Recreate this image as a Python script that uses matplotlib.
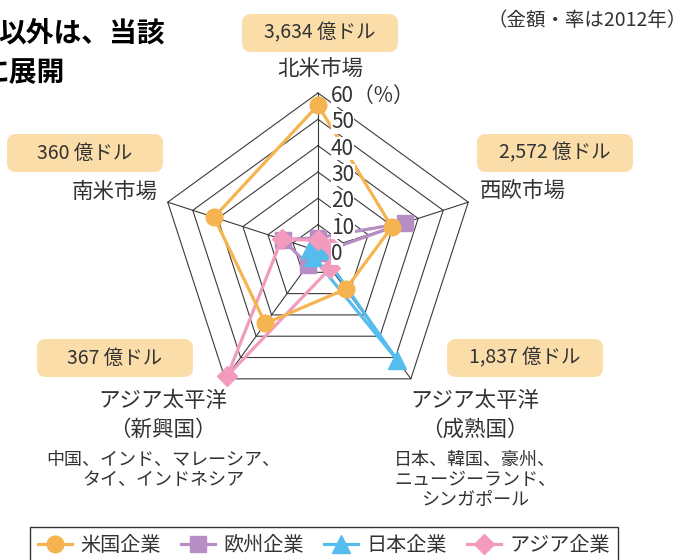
import numpy as np
import matplotlib
matplotlib.use('Agg')
from matplotlib import pyplot as plt
from matplotlib.patches import FancyBboxPatch
from matplotlib.lines import Line2D

plt.rcParams['font.family'] = ['Noto Sans CJK JP', 'DejaVu Sans']

# datos (%)
markets = ['北米市場', '西欧市場', 'アジア太平洋(成熟国)', 'アジア太平洋(新興国)', '南米市場']
amounts = ['3,634 億ドル', '2,572 億ドル', '1,837 億ドル', '367 億ドル', '360 億ドル']
us_vals = [55.4, 29.5, 17.9, 34, 41.5]
eu_vals = [5, 34.6, 1, 6.5, 14]
jp_vals = [3, 1, 51, 3, 3]
asia_vals = [4, 5, 8, 58.5, 14.5]
ticks = [0, 10, 20, 30, 40, 50, 60]
series_names = ['米国企業', '欧州企業', '日本企業', 'アジア企業']

txt = '#333333'
col_us = '#F5B44F'
col_eu = '#B68DC5'
col_jp = '#55BDEE'
col_asia = '#F29BBE'
col_box = '#FBDDAA'

fig = plt.figure(figsize=(6.91, 5.6), dpi=100)
ax = fig.add_axes([0, 0, 1, 1])
ax.set_xlim(0, 691)
ax.set_ylim(560, 0)
ax.axis('off')

# geometria del radar (pixeles)
cx, cy, R = 318, 251, 158
ang = np.deg2rad([90, 18, -54, -126, 162])

def xy(vals):
    r = np.array(vals) / 60.0 * R
    x = cx + r * np.cos(ang)
    y = cy - r * np.sin(ang)
    return np.append(x, x[0]), np.append(y, y[0])

# rejilla pentagonal
for t in ticks[1:]:
    gx, gy = xy([t] * 5)
    ax.plot(gx, gy, color='#3a3a3a', lw=0.8, zorder=1)
for a in ang:
    ax.plot([cx, cx + R * np.cos(a)], [cy, cy - R * np.sin(a)], color='#3a3a3a', lw=0.8, zorder=1)

# series
styles = [(eu_vals, col_eu, 's', 11), (jp_vals, col_jp, '^', 13),
          (asia_vals, col_asia, 'D', 10), (us_vals, col_us, 'o', 12)]
for k, (vals, c, m, ms) in enumerate(styles):
    px, py = xy(vals)
    ax.plot(px, py, color=c, lw=2.3, zorder=3 + k)
    ax.plot(px[:-1], py[:-1], ls='none', marker=m, ms=ms, color=c, zorder=3 + k)

# etiquetas de escala
for t in ticks:
    lab = str(t) + '（%）' if t == 60 else str(t)
    ax.text(cx + 13, cy - t / 60.0 * R + 3, lab, fontsize=15, color=txt, ha='left', va='center',
            zorder=10, bbox=dict(facecolor='white', edgecolor='none', pad=0.3))

# cajas de importe
boxes = [(242, 14), (477, 134), (447, 339), (37, 339), (7, 134)]
for (bx, by), s in zip(boxes, amounts):
    ax.add_patch(FancyBboxPatch((bx, by), 156, 38, boxstyle='round,pad=0,rounding_size=9',
                                facecolor=col_box, edgecolor='none', zorder=2))
    ax.text(bx + 78, by + 19, s, fontsize=14, color=txt, ha='center', va='center', zorder=3)

# nombres de mercado
ax.text(320, 70, '北米市場', fontsize=15.5, color=txt, ha='center', va='center')
ax.text(480, 192, '西欧市場', fontsize=15.5, color=txt, ha='left', va='center')
ax.text(158, 192, '南米市場', fontsize=15.5, color=txt, ha='right', va='center')
ax.text(475, 401, 'アジア太平洋', fontsize=15.5, color=txt, ha='center', va='center')
ax.text(475, 430, '（成熟国）', fontsize=15.5, color=txt, ha='center', va='center')
ax.text(163, 401, 'アジア太平洋', fontsize=15.5, color=txt, ha='center', va='center')
ax.text(163, 430, '（新興国）', fontsize=15.5, color=txt, ha='center', va='center')
ax.text(475, 480, '日本、韓国、豪州、\nニュージーランド、\nシンガポール', fontsize=13, color=txt,
        ha='center', va='center', linespacing=1.15)
ax.text(163, 470, '中国、インド、マレーシア、\nタイ、インドネシア', fontsize=13, color=txt,
        ha='center', va='center', linespacing=1.15)

# encabezado recortado y nota
ax.text(165, 33, '以外は、当該', fontsize=20, fontweight='bold', color='black', ha='right', va='center')
ax.text(64, 73, 'に展開', fontsize=20, fontweight='bold', color='black', ha='right', va='center')
ax.text(687, 20, '（金額・率は2012年）', fontsize=14, color=txt, ha='right', va='center')

# leyenda
leg_h = [Line2D([], [], color=c, lw=2.3, marker=m, ms=ms) for (_, c, m, ms) in
         [styles[3], styles[0], styles[1], styles[2]]]
fig.legend(leg_h, series_names, loc='upper left', bbox_to_anchor=(30 / 691, 1 - 527 / 560),
           ncol=4, fontsize=14.5, frameon=True, fancybox=False, edgecolor='#333333',
           handlelength=1.7, handletextpad=0.4, columnspacing=1.0, borderpad=0.4,
           borderaxespad=0, labelcolor=txt, framealpha=1)

fig.savefig('out.png', dpi=100)
